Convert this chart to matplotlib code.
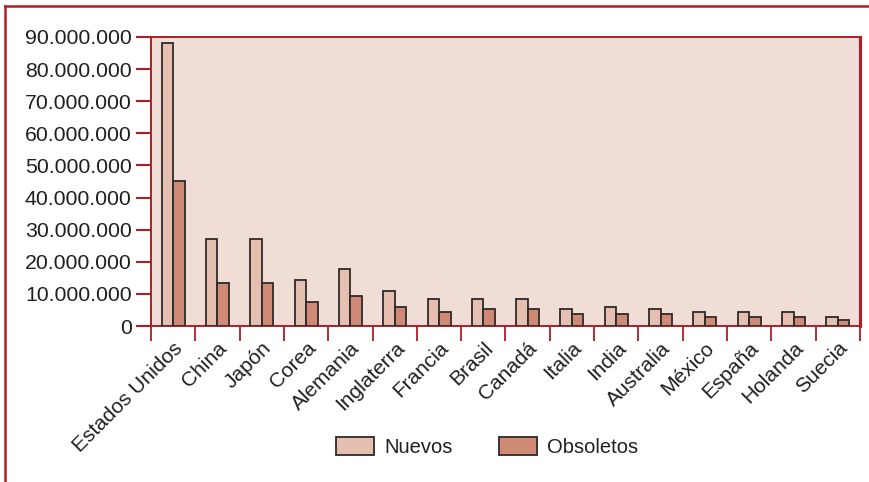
import numpy as np
import matplotlib.pyplot as plt
from matplotlib.lines import Line2D

plt.rcParams['font.family'] = ['Liberation Sans', 'DejaVu Sans']

paises = ["Estados Unidos", "China", "Japón", "Corea", "Alemania", "Inglaterra",
          "Francia", "Brasil", "Canadá", "Italia", "India", "Australia",
          "México", "España", "Holanda", "Suecia"]
nuevos = [88_000_000, 27_000_000, 27_000_000, 14_300_000, 17_700_000, 11_000_000,
          8_500_000, 8_500_000, 8_500_000, 5_200_000, 6_000_000, 5_200_000,
          4_400_000, 4_400_000, 4_400_000, 2_700_000]
obsoletos = [45_000_000, 13_500_000, 13_500_000, 7_600_000, 9_300_000, 6_000_000,
             4_400_000, 5_200_000, 5_200_000, 3_600_000, 3_600_000, 3_600_000,
             2_700_000, 2_700_000, 2_700_000, 1_900_000]
yticks = list(range(0, 90_000_001, 10_000_000))

rojo = '#b01e25'
texto = '#231f20'
c_nuevos = '#e5bfb0'
c_obsoletos = '#cf8a76'

fig = plt.figure(figsize=(8.7, 4.82), dpi=100)
ax = fig.add_axes([151/870, 1 - 326/482, 709/870, 289/482])
ax.set_facecolor('#f0ddd5')

x = np.arange(len(paises))
w = 0.26
ax.bar(x - w/2, nuevos, w, color=c_nuevos, edgecolor='#2e2a2a', linewidth=1.3,
       label='Nuevos', zorder=3)
ax.bar(x + w/2, obsoletos, w, color=c_obsoletos, edgecolor='#2e2a2a', linewidth=1.3,
       label='Obsoletos', zorder=3)

ax.set_xlim(-0.5, len(paises) - 0.5)
ax.set_ylim(0, 90_000_000)

ax.set_yticks(yticks)
ax.set_yticklabels(['0' if v == 0 else f'{v:,}'.replace(',', '.') for v in yticks],
                   fontsize=15.3, color=texto)
ax.tick_params(axis='y', direction='out', length=11, width=1.5, color=rojo, pad=3)

ax.set_xticks(x)
ax.set_xticklabels(paises, rotation=45, ha='right', rotation_mode='anchor',
                   fontsize=15, color=texto)
ax.tick_params(axis='x', which='major', length=0, pad=9)
ax.set_xticks(np.arange(-0.5, len(paises)), minor=True)
ax.tick_params(axis='x', which='minor', direction='out', length=11, width=1.3, color=rojo)

for s in ax.spines.values():
    s.set_color(rojo)
    s.set_linewidth(1.4)
ax.spines['right'].set_linewidth(2.2)

leg = fig.legend(loc='center', bbox_to_anchor=(487/870, 1 - 447/482), ncol=2,
                 frameon=False, fontsize=14.5, handlelength=1.9, handleheight=1.0,
                 handletextpad=0.5, columnspacing=2.3)
for t in leg.get_texts():
    t.set_color(texto)

# marco exterior
fig.add_artist(Line2D([5/870, 1], [1 - 6/482, 1 - 6/482], transform=fig.transFigure,
                      color=rojo, linewidth=1.8))
fig.add_artist(Line2D([5/870, 5/870], [0, 1 - 6/482], transform=fig.transFigure,
                      color=rojo, linewidth=1.8))

fig.savefig('out.png', dpi=100)
